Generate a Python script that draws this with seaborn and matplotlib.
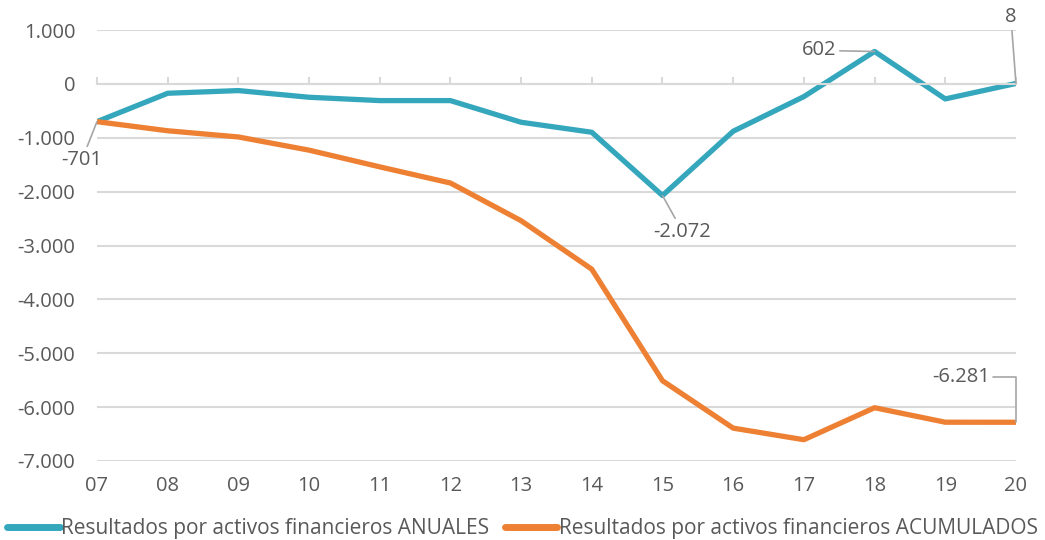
import pandas as pd
import matplotlib
matplotlib.use("Agg")
import matplotlib.pyplot as plt
import matplotlib.ticker as mticker
import seaborn as sns

# data
years = ["07", "08", "09", "10", "11", "12", "13", "14", "15", "16", "17", "18", "19", "20"]
anuales = [-701, -174, -124, -248, -310, -310, -712, -898, -2072, -879, -236, 602, -279, 8]
acumulados = [-701, -870, -985, -1230, -1540, -1840, -2540, -3440, -5510, -6390, -6605, -6011, -6280, -6281]

name_anual = "Resultados por activos financieros ANUALES"
name_acum = "Resultados por activos financieros ACUMULADOS"

df = pd.DataFrame({
    "year": years * 2,
    "value": anuales + acumulados,
    "serie": [name_anual] * len(years) + [name_acum] * len(years),
})

sns.set_style("white")
plt.rcParams["font.family"] = ["Open Sans", "DejaVu Sans"]

text_col = "#595959"
grid_col = "#D9D9D9"
fs = 14.5

fig = plt.figure(figsize=(10.45, 5.4), dpi=100)
ax = fig.add_axes([0.0928, 0.1463, 0.8794, 0.7981])

sns.lineplot(data=df, x="year", y="value", hue="serie", sort=False,
             palette={name_anual: "#35A7BD", name_acum: "#EE8033"},
             linewidth=3.8, ax=ax)

ax.set_ylim(-7000, 1000)
ax.set_xlim(0, len(years) - 1)
ax.yaxis.set_major_locator(mticker.MultipleLocator(1000))
ax.yaxis.set_major_formatter(mticker.FuncFormatter(lambda v, p: f"{v:,.0f}".replace(",", ".")))
ax.grid(axis="y", color=grid_col, linewidth=1.5)
ax.set_axisbelow(True)
for s in ["left", "right", "bottom"]:
    ax.spines[s].set_visible(False)
# category ticks on the zero line
ax.spines["top"].set_position(("data", 0))
ax.spines["top"].set_color(grid_col)
ax.spines["top"].set_linewidth(1.5)
ax.tick_params(axis="x", top=True, bottom=False, labeltop=False, direction="out",
               length=5, width=1.5, color=grid_col, labelsize=fs, labelcolor=text_col, pad=6)
ax.tick_params(axis="y", left=False, labelsize=fs, labelcolor=text_col, pad=12)
ax.set_xlabel("")
ax.set_ylabel("")

# data labels
lead = dict(arrowstyle="-", color="#A6A6A6", lw=1.2, shrinkA=0, shrinkB=0)
ax.annotate("-701", xy=(0, anuales[0]), xytext=(-15, -38), textcoords="offset pixels",
            ha="center", va="center", fontsize=fs, color=text_col, arrowprops=lead)
ax.annotate("-2.072", xy=(8, anuales[8]), xytext=(20, -36), textcoords="offset pixels",
            ha="center", va="center", fontsize=fs, color=text_col, arrowprops=lead)
ax.annotate("602", xy=(11, anuales[11]), xytext=(-38, 1), textcoords="offset pixels",
            ha="right", va="center", fontsize=fs, color=text_col, arrowprops=lead)
ax.annotate("8", xy=(13, anuales[13]), xytext=(-5, 66), textcoords="offset pixels",
            ha="center", va="center", fontsize=fs, color=text_col, arrowprops=lead)
ax.annotate("-6.281", xy=(13, acumulados[13]), xytext=(-26, 45), textcoords="offset pixels",
            ha="right", va="center", fontsize=fs, color=text_col,
            arrowprops=dict(lead, connectionstyle="angle,angleA=0,angleB=90,rad=0"))

leg = ax.legend(loc="lower center", bbox_to_anchor=(0.5, -0.033), bbox_transform=fig.transFigure,
                ncol=2, frameon=False, fontsize=15, handlelength=2.5, handletextpad=0.05,
                columnspacing=0.8, labelcolor=text_col)
for line in leg.get_lines():
    line.set_linewidth(5)
    line.set_solid_capstyle("round")

fig.savefig("out.png", dpi=100)
